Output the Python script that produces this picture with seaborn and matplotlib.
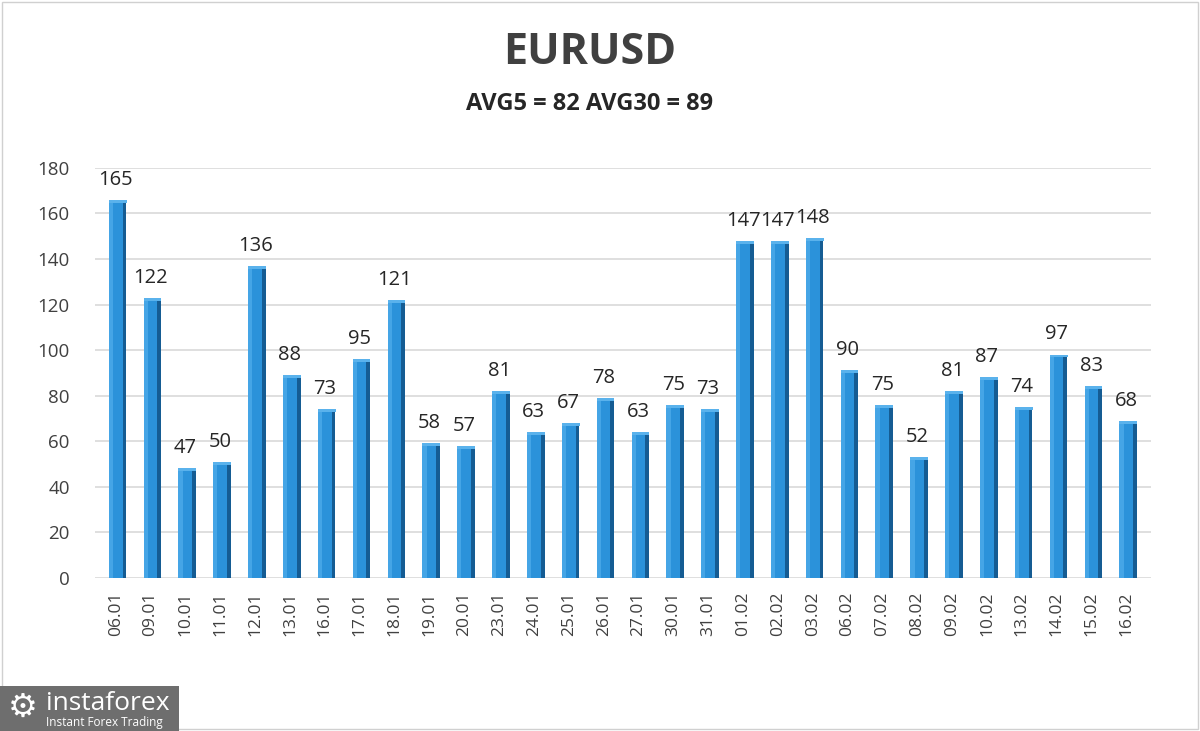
import numpy as np
import pandas as pd
import matplotlib
matplotlib.use("Agg")
import matplotlib.pyplot as plt
import seaborn as sns

dates = ["06.01", "09.01", "10.01", "11.01", "12.01", "13.01", "16.01", "17.01", "18.01", "19.01",
         "20.01", "23.01", "24.01", "25.01", "26.01", "27.01", "30.01", "31.01", "01.02", "02.02",
         "03.02", "06.02", "07.02", "08.02", "09.02", "10.02", "13.02", "14.02", "15.02", "16.02"]
values = [165, 122, 47, 50, 136, 88, 73, 95, 121, 58,
          57, 81, 63, 67, 78, 63, 75, 73, 147, 147,
          148, 90, 75, 52, 81, 87, 74, 97, 83, 68]
yticks = [0, 20, 40, 60, 80, 100, 120, 140, 160, 180]
title = "EURUSD"
subtitle = "AVG5 = 82 AVG30 = 89"

df = pd.DataFrame({"date": dates, "value": values})

sns.set_theme(style="white")
plt.rcParams["font.family"] = ["Open Sans", "DejaVu Sans"]

fig = plt.figure(figsize=(12, 7.31), dpi=100)
ax = fig.add_axes([0.079, 0.2093, 0.880, 0.561])

# gridlines
for t in yticks:
    ax.axhline(t, color="#d9d9d9", lw=1.2, zorder=0)

front_w = 0.40
side_w = 0.11
sns.barplot(data=df, x="date", y="value", color="#2b92da", width=front_w,
            saturation=1, linewidth=0, ax=ax, zorder=3)
pos = np.arange(len(values))
vals = np.array(values, dtype=float)
# lighter left part of the front face (gradient impression)
ax.bar(pos - front_w / 2 + 0.06, vals, width=0.12, color="#45a5e6", zorder=4, linewidth=0)
# dark side face
ax.bar(pos + front_w / 2 + side_w / 2 - 0.005, vals, width=side_w, color="#155c93",
       zorder=3, linewidth=0)
# top cap
ax.bar(pos + side_w / 2, np.full_like(vals, 1.3), bottom=vals - 0.2,
       width=front_w + side_w, color="#5ab2ec", zorder=5, linewidth=0)

for p, v in zip(pos, values):
    ax.text(p, v + 5.5, str(v), ha="center", va="bottom", fontsize=14.5, color="#262626", zorder=6)

ax.set_xlim(-0.6, 29.7)
ax.set_ylim(0, 180)
ax.set_yticks(yticks)
ax.set_yticklabels([str(t) for t in yticks], fontsize=13.5, color="#404040")
ax.tick_params(axis="y", length=0, pad=18)
ax.tick_params(axis="x", length=0, pad=10, labelsize=12.5, labelcolor="#404040", rotation=90)
ax.set_xlabel("")
ax.set_ylabel("")
for s in ax.spines.values():
    s.set_visible(False)
ax.patch.set_alpha(0)

fig.text(0.491, 0.928, title, ha="center", va="center", fontsize=31, fontweight="bold", color="#404040")
fig.text(0.491, 0.858, subtitle, ha="center", va="center", fontsize=17, fontweight="bold", color="#262626")

# border
fig.patches.append(plt.Rectangle((0.002, 0.003), 0.996, 0.994, transform=fig.transFigure,
                                 fill=False, edgecolor="#d0d0d0", lw=1))
# logo
fig.patches.append(plt.Rectangle((0, 0), 0.149, 0.062, transform=fig.transFigure,
                                 facecolor="#6e6e6e", edgecolor="none"))
fig.text(0.038, 0.037, "instaforex", fontsize=19, color="white", va="center", ha="left")
fig.text(0.038, 0.012, "Instant Forex Trading", fontsize=8.5, color="white", va="center", ha="left")
fig.text(0.019, 0.033, "\u2699", fontsize=24, color="white", va="center", ha="center",
         family=["DejaVu Sans"])

fig.savefig("out.png", dpi=100, facecolor="white")
